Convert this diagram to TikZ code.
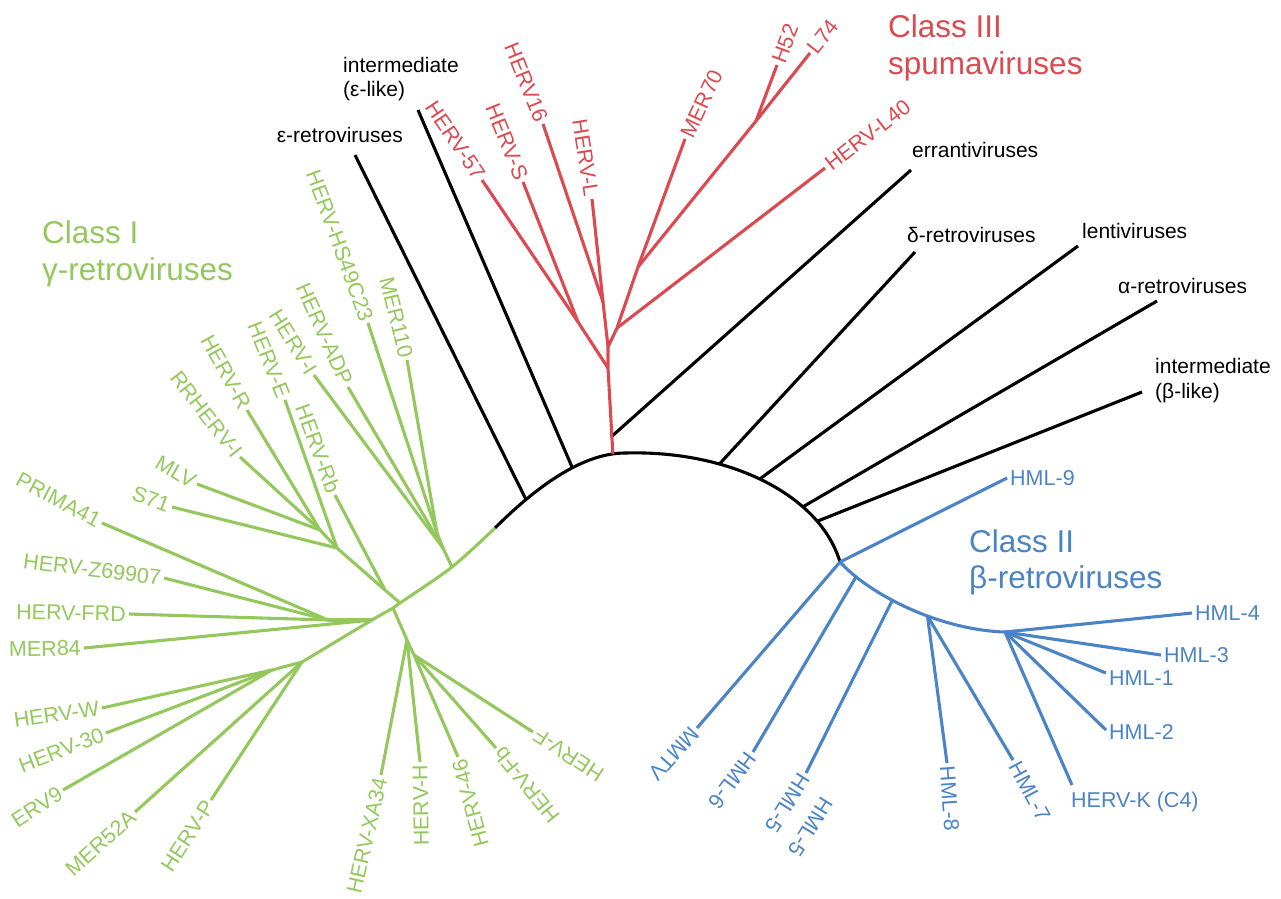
\documentclass[tikz,border=0pt]{standalone}
\usepackage{fontspec}
\setmainfont{Liberation Sans}
\definecolor{cgreen}{RGB}{148,200,92}
\definecolor{cred}{RGB}{218,74,80}
\definecolor{cblue}{RGB}{74,132,198}
\tikzset{
  br/.style={line width=3.1pt},
  kbr/.style={br, draw=black},
  gbr/.style={br, draw=cgreen},
  rbr/.style={br, draw=cred},
  bbr/.style={br, draw=cblue},
  lab/.style={font=\fontsize{21.5}{24}\selectfont, inner sep=3pt},
  klab/.style={font=\fontsize{21}{24}\selectfont, text=black, inner sep=0pt, anchor=base west},
  glab/.style={lab, text=cgreen},
  rlab/.style={lab, text=cred},
  blab/.style={lab, text=cblue},
  title/.style={font=\fontsize{31.5}{37}\selectfont, inner sep=0pt, anchor=base west}
}
\begin{document}
\begin{tikzpicture}[x=1pt,y=-1pt]
\useasboundingbox (0,0) rectangle (1281,898);

% ---------- backbone (black) ----------
\coordinate (k0) at (495,528);
\coordinate (kT) at (625,453);
\coordinate (k8) at (840,562);
\draw[kbr] (k0) .. controls (540,483) and (585,453) .. (kT)
   coordinate[pos=0.23] (k1) coordinate[pos=0.58] (k2) coordinate[pos=0.9] (k3);
\draw[kbr] (kT) .. controls (730,450) and (820,495) .. (k8)
   coordinate[pos=0.32] (k4) coordinate[pos=0.48] (k5) coordinate[pos=0.69] (k6) coordinate[pos=0.78] (k7);

% black tips
\coordinate (teps) at (355,155);
\coordinate (tieps) at (418,110);
\coordinate (terr) at (911,170);
\coordinate (tdel) at (915,252);
\coordinate (tlen) at (1078,246);
\coordinate (talp) at (1157,301);
\coordinate (tibe) at (1142,392);
\coordinate (rk) at (611,437);

\draw[kbr] (k1) -- (teps);
\draw[kbr] (k2) -- (tieps);
\draw[kbr] (rk) -- (terr);
\draw[kbr] (k4) -- (tdel);
\draw[kbr] (k5) -- (tlen);
\draw[kbr] (k6) -- (talp);
\draw[kbr] (k7) -- (tibe);

\node[klab, anchor=base east] (leps) at (403,142) {ε-retroviruses};
\node[klab] (lieps1) at (343,72) {intermediate};
\node[klab] (lieps2) at (343,96) {(ε-like)};
\node[klab] (lerr) at (912,157) {errantiviruses};
\node[klab] (ldel) at (907,242) {δ-retroviruses};
\node[klab] (llen) at (1082,238) {lentiviruses};
\node[klab] (lalp) at (1118,293) {α-retroviruses};
\node[klab] (libe1) at (1155,373) {intermediate};
\node[klab] (libe2) at (1155,398) {(β-like)};

% ---------- Class I (green) ----------
\coordinate (g1) at (452,567);
\coordinate (g2) at (400,603);
\coordinate (g5) at (393,608);
\coordinate (g3) at (372,620);
\coordinate (g4) at (302,662);
\draw[gbr] plot[smooth, tension=0.5] coordinates {(k0) (g1) (g2) (g5) (g3) (g4)};

\coordinate (g1a) at (437,533);
\coordinate (g1b) at (443,548);
\coordinate (g2a) at (385,590);
\coordinate (g2b) at (337,548);
\coordinate (g2c) at (320,530);
\coordinate (h3) at (328,620);
\coordinate (g4w) at (272,670);
\coordinate (h5) at (407,640);
\coordinate (h5b) at (414,655);

\coordinate (tmer110) at (407,360);
\coordinate (ths) at (368,323);
\coordinate (tadp) at (348,387);
\coordinate (thi) at (314,375);
\coordinate (trb) at (335,495);
\coordinate (the) at (285,400);
\coordinate (ts71) at (172,507);
\coordinate (thr) at (247,410);
\coordinate (trr) at (240,457);
\coordinate (tmlv) at (197,484);
\coordinate (tpri) at (102,523);
\coordinate (tz) at (164,578);
\coordinate (tfrd) at (129,614);
\coordinate (tm84) at (84,648);
\coordinate (thw) at (102,708);
\coordinate (th30) at (106,733);
\coordinate (terv) at (63,790);
\coordinate (tm52) at (135,812);
\coordinate (thp) at (211,800);
\coordinate (txa) at (381,775);
\coordinate (thh) at (420,762);
\coordinate (th46) at (458,757);
\coordinate (thfb) at (496,748);
\coordinate (thf) at (533,732);

\draw[gbr] (g1) -- (g1b) -- (g1a);
\draw[gbr] (g1a) -- (tmer110);
\draw[gbr] (g1a) -- (ths);
\draw[gbr] (g1b) -- (tadp);
\draw[gbr] (g1b) -- (thi);
\draw[gbr] (g2) -- (g2a) -- (g2b) -- (g2c);
\draw[gbr] (g2a) -- (trb);
\draw[gbr] (g2b) -- (the);
\draw[gbr] (g2b) -- (ts71);
\draw[gbr] (g2c) -- (thr);
\draw[gbr] (g2c) -- (trr);
\draw[gbr] (g2c) -- (tmlv);
\draw[gbr] (g3) -- (h3);
\draw[gbr] (h3) -- (tpri);
\draw[gbr] (h3) -- (tz);
\draw[gbr] (h3) -- (tfrd);
\draw[gbr] (g3) -- (tm84);
\draw[gbr] (g4) -- (g4w);
\draw[gbr] (g4w) -- (thw);
\draw[gbr] (g4w) -- (th30);
\draw[gbr] (g4w) -- (terv);
\draw[gbr] (g4) -- (tm52);
\draw[gbr] (g4) -- (thp);
\draw[gbr] (g5) -- (h5) -- (h5b);
\draw[gbr] (h5) -- (txa);
\draw[gbr] (h5) -- (thh);
\draw[gbr] (h5b) -- (th46);
\draw[gbr] (h5b) -- (thfb);
\draw[gbr] (h5b) -- (thf);

\node[glab, anchor=east, rotate=-76] (lmer110) at (tmer110) {MER110};
\node[glab, anchor=east, rotate=-70] (lhs) at (ths) {HERV-HS49C23};
\node[glab, anchor=east, rotate=-66] (ladp) at (tadp) {HERV-ADP};
\node[glab, anchor=east, rotate=-58] (lhi) at (thi) {HERV-I};
\node[glab, anchor=east, rotate=-70] (lrb) at (trb) {HERV-Rb};
\node[glab, anchor=east, rotate=-68] (lhe) at (the) {HERV-E};
\node[glab, anchor=east, rotate=-20] (ls71) at (ts71) {S71};
\node[glab, anchor=east, rotate=-61] (lhr) at (thr) {HERV-R};
\node[glab, anchor=east, rotate=-52] (lrr) at (trr) {RRHERV-I};
\node[glab, anchor=east, rotate=-30] (lmlv) at (tmlv) {MLV};
\node[glab, anchor=east, rotate=-28] (lpri) at (tpri) {PRIMA41};
\node[glab, anchor=east, rotate=-7] (lz) at (tz) {HERV-Z69907};
\node[glab, anchor=east, rotate=-1] (lfrd) at (tfrd) {HERV-FRD};
\node[glab, anchor=east, rotate=1] (lm84) at (tm84) {MER84};
\node[glab, anchor=east, rotate=8] (lhw) at (thw) {HERV-W};
\node[glab, anchor=east, rotate=21] (lh30) at (th30) {HERV-30};
\node[glab, anchor=east, rotate=33] (lerv) at (terv) {ERV9};
\node[glab, anchor=east, rotate=42] (lm52) at (tm52) {MER52A};
\node[glab, anchor=east, rotate=57] (lhp) at (thp) {HERV-P};
\node[glab, anchor=east, rotate=77] (lxa) at (txa) {HERV-XA34};
\node[glab, anchor=east, rotate=91] (lhh) at (thh) {HERV-H};
\node[glab, anchor=east, rotate=105] (lh46) at (th46) {HERV-46};
\node[glab, anchor=east, rotate=129] (lhfb) at (thfb) {HERV-Fb};
\node[glab, anchor=east, rotate=147] (lhf) at (thf) {HERV-F};

\node[title, text=cgreen] (tI1) at (42,243) {Class I};
\node[title, text=cgreen] (tI2) at (42,280) {γ-retroviruses};

% ---------- Class III (red) ----------
\coordinate (r1) at (608,368);
\coordinate (r2) at (608,347);
\coordinate (rA) at (578,322);
\coordinate (rB) at (603,302);
\coordinate (rC) at (617,328);
\coordinate (rD) at (638,267);
\coordinate (rE) at (756,121);
\coordinate (t57) at (482,180);
\coordinate (tS) at (523,182);
\coordinate (t16) at (543,124);
\coordinate (tL) at (592,199);
\coordinate (tm70) at (685,139);
\coordinate (th52) at (777,65);
\coordinate (tl74) at (810,53);
\coordinate (tl40) at (825,168);

\draw[rbr] (k3) -- (r1) -- (r2) -- (rB);
\draw[rbr] (r1) -- (rA);
\draw[rbr] (r2) -- (rC) -- (rD) -- (rE);
\draw[rbr] (rA) -- (t57);
\draw[rbr] (rA) -- (tS);
\draw[rbr] (rB) -- (t16);
\draw[rbr] (rB) -- (tL);
\draw[rbr] (rC) -- (tl40);
\draw[rbr] (rD) -- (tm70);
\draw[rbr] (rE) -- (th52);
\draw[rbr] (rE) -- (tl74);

\node[rlab, anchor=east, rotate=-56] (l57) at (t57) {HERV-57};
\node[rlab, anchor=east, rotate=-68] (lS) at (tS) {HERV-S};
\node[rlab, anchor=east, rotate=-68] (l16) at (t16) {HERV16};
\node[rlab, anchor=east, rotate=-81] (lL) at (tL) {HERV-L};
\node[rlab, anchor=west, rotate=65] (lm70) at (tm70) {MER70};
\node[rlab, anchor=west, rotate=69.4] (lh52) at (th52) {H52};
\node[rlab, anchor=west, rotate=51.5] (ll74) at (tl74) {L74};
\node[rlab, anchor=west, rotate=37.6] (ll40) at (tl40) {HERV-L40};

\node[title, text=cred] (tIII1) at (888,37) {Class III};
\node[title, text=cred] (tIII2) at (888,74) {spumaviruses};

% ---------- Class II (blue) ----------
\coordinate (b4) at (1005,632);
\draw[bbr] (k8) .. controls (870,595) and (940,630) .. (b4)
   coordinate[pos=0.15] (b1) coordinate[pos=0.4] (b2) coordinate[pos=0.6] (b3);

\coordinate (thml9) at (1007,478);
\coordinate (tmmtv) at (697,728);
\coordinate (thml6) at (753,752);
\coordinate (thml5) at (806,773);
\coordinate (thml5b) at (829,797);
\coordinate (thml8) at (947,763);
\coordinate (thml7) at (1013,760);
\coordinate (thml4) at (1192,613);
\coordinate (thml3) at (1161,655);
\coordinate (thml1) at (1106,673);
\coordinate (thml2) at (1106,730);
\coordinate (thk) at (1072,785);

\draw[bbr] (k8) -- (thml9);
\draw[bbr] (k8) -- (tmmtv);
\draw[bbr] (b1) -- (thml6);
\draw[bbr] (b2) -- (thml5);
\draw[bbr] (b3) -- (thml8);
\draw[bbr] (b3) -- (thml7);
\draw[bbr] (b4) -- (thml4);
\draw[bbr] (b4) -- (thml3);
\draw[bbr] (b4) -- (thml1);
\draw[bbr] (b4) -- (thml2);
\draw[bbr] (b4) -- (thk);

\node[blab, anchor=west] (lhml9) at (thml9) {HML-9};
\node[blab, anchor=west, rotate=228] (lmmtv) at (tmmtv) {MMTV};
\node[blab, anchor=west, rotate=234] (lhml6) at (thml6) {HML-6};
\node[blab, anchor=west, rotate=238] (lhml5) at (thml5) {HML-5};
\node[blab, anchor=west, rotate=238] (lhml5b) at (thml5b) {HML-5};
\node[blab, anchor=west, rotate=-86] (lhml8) at (thml8) {HML-8};
\node[blab, anchor=west, rotate=-62] (lhml7) at (thml7) {HML-7};
\node[blab, anchor=west] (lhml4) at (thml4) {HML-4};
\node[blab, anchor=west] (lhml3) at (thml3) {HML-3};
\node[blab, anchor=west, yshift=-5pt] (lhml1) at (thml1) {HML-1};
\node[blab, anchor=west, yshift=-2pt] (lhml2) at (thml2) {HML-2};
\node[blab, anchor=base west, inner sep=0pt] (lhk) at (1071,807) {HERV-K (C4)};

\node[title, text=cblue] (tII1) at (969,552) {Class II};
\node[title, text=cblue] (tII2) at (969,588) {β-retroviruses};
\end{tikzpicture}
\end{document}
